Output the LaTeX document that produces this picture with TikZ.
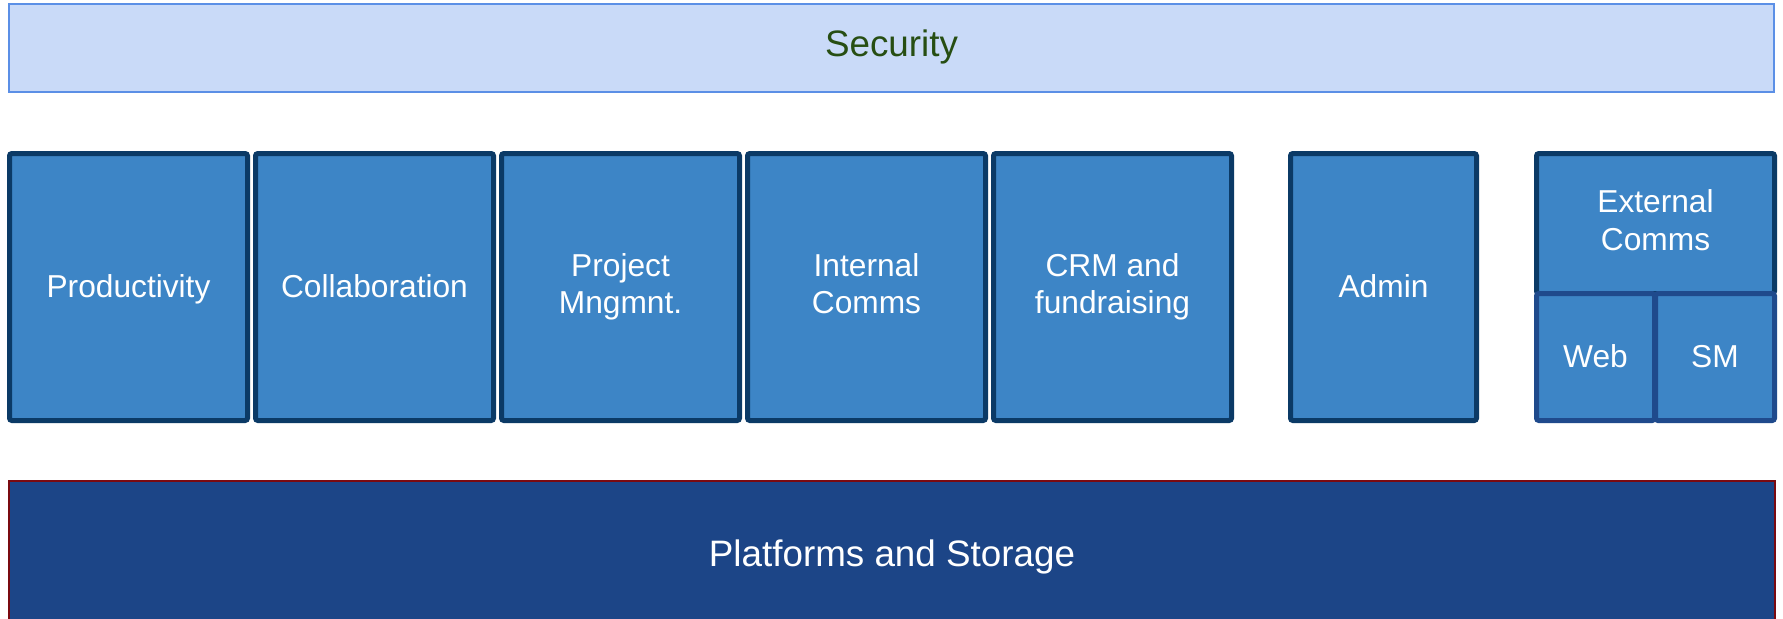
\documentclass[tikz,border=0pt]{standalone}
\usepackage{fontspec}
\setmainfont{Liberation Sans}
\definecolor{boxfill}{HTML}{3D85C6}
\definecolor{boxline}{HTML}{0B3A66}
\definecolor{subline}{HTML}{1F4A8C}
\definecolor{secfill}{HTML}{C9DAF8}
\definecolor{secline}{HTML}{5B8FE6}
\definecolor{sectext}{HTML}{274E13}
\definecolor{platfill}{HTML}{1C4587}
\definecolor{platline}{HTML}{7A0A10}
\newcommand\pptstrut{\rule[-0.212em]{0pt}{1.117em}}
\begin{document}
\begin{tikzpicture}[x=0.5pt,y=-0.5pt,
  modbox/.style={draw=boxline, fill=boxfill, line width=2.5pt, rounded corners=1.2pt,
    text=white, align=center, inner sep=0pt,
    font=\fontsize{15.85pt}{18.8pt}\selectfont,
    execute at begin node=\pptstrut, execute at end node=\pptstrut,
    minimum width=119pt, minimum height=133.5pt},
  subbox/.style={modbox, draw=subline, minimum height=63.5pt},
  bigband/.style={line width=1pt, inner sep=0pt,
    font=\fontsize{18.4pt}{22pt}\selectfont}]
\useasboundingbox (0,0) rectangle (1783,618);
\clip (0,0) rectangle (1783,618);
\fill[white] (0,0) rectangle (1783,618);
% Security band
\node[bigband, draw=secline, fill=secfill, text=sectext,
  text height=14pt, text depth=5.3pt,
  minimum width=882.5pt, minimum height=44pt] (security) at (891.5,48) {Security};
% Module boxes
\node[modbox] (prod) at (128.5,287) {Productivity};
\node[modbox] (collab) at (374.5,287) {Collaboration};
\node[modbox] (proj) at (620.5,287) {Project\\Mngmnt.};
\node[modbox] (intcomms) at (866.5,287) {Internal\\Comms};
\node[modbox] (crm) at (1112.5,287) {CRM and\\fundraising};
\node[modbox, minimum width=93pt] (admin) at (1383.5,287) {Admin};
% External comms group
\node[modbox, minimum height=70pt] (extcomms) at (1655.5,223.5) {External\\Comms};
\node[subbox, minimum width=59pt] (web) at (1595.5,357) {Web};
\node[subbox, minimum width=59.5pt] (sm) at (1715,357) {SM};
% Platforms band
\node[bigband, draw=platline, fill=platfill, text=white,
  text height=17pt, text depth=4pt,
  minimum width=883pt, minimum height=72pt] (platforms) at (892,553) {Platforms and Storage};
\end{tikzpicture}
\end{document}
